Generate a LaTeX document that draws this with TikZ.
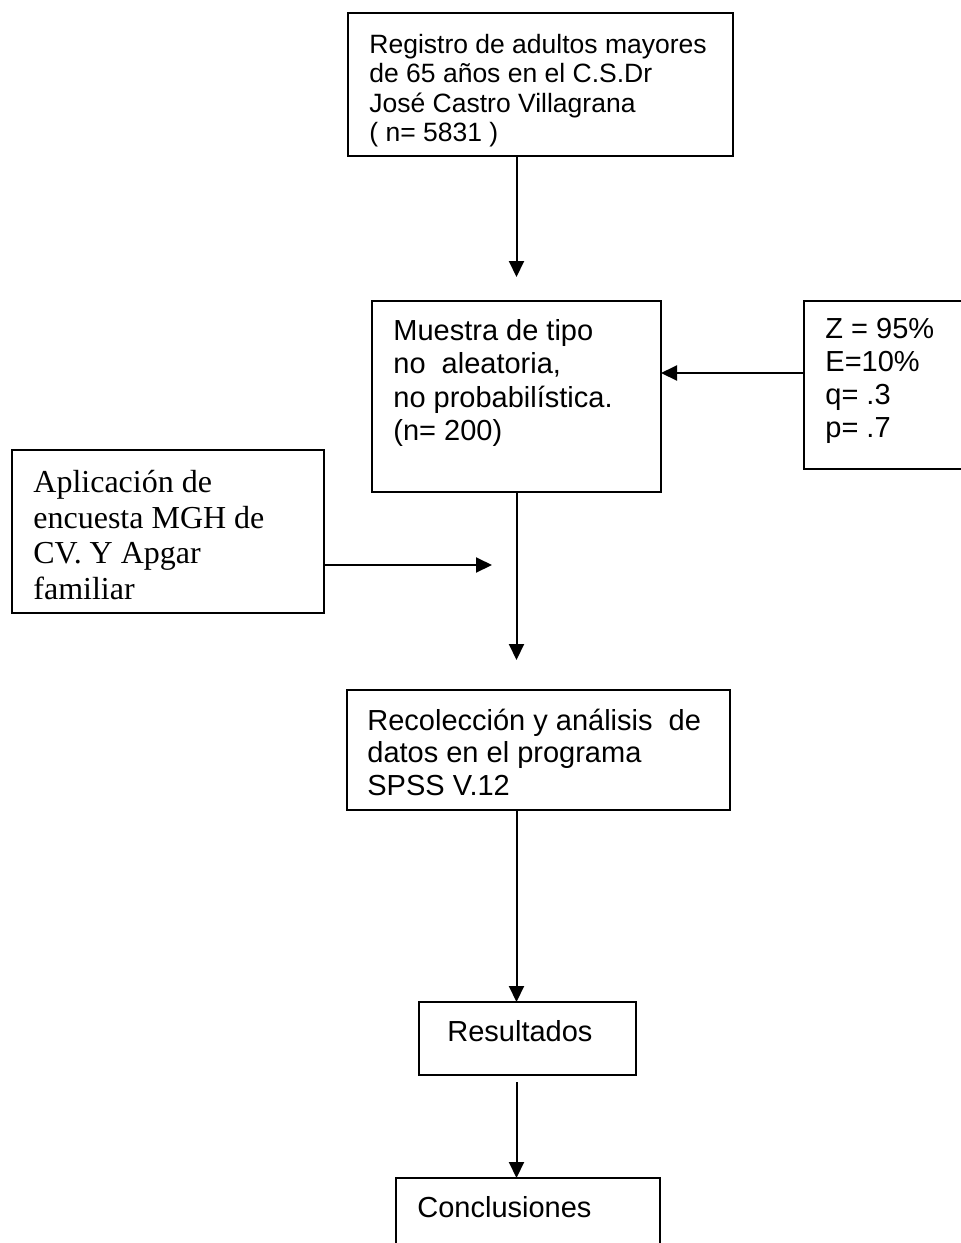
\documentclass[tikz,border=0pt]{standalone}
\usepackage{fontspec}
\setmainfont{Liberation Sans}
\newfontfamily\serifface{Liberation Serif}
\usetikzlibrary{arrows.meta}

\begin{document}
\begin{tikzpicture}[x=0.5pt,y=-0.5pt,
    box/.style={draw,line width=1.1pt,anchor=north west,inner sep=0pt,outer sep=0pt},
    txt/.style={anchor=base west,align=left,inner sep=0pt},
    arr/.style={line width=1pt,-{Triangle[length=8pt,width=7.5pt]}}]
    \useasboundingbox (0,0) rectangle (961,1243);
    \node[box,minimum width=192.5pt,minimum height=71.5pt] (reg) at (348,13) {};
    \node[box,minimum width=144.5pt,minimum height=95.5pt] (muestra) at (372,301) {};
    \node[box,minimum width=125pt,minimum height=84pt] (cond) at (804,301) {};
    \node[box,minimum width=156pt,minimum height=81.5pt] (apl) at (12,450) {};
    \node[box,minimum width=191.5pt,minimum height=60pt] (reco) at (347,690) {};
    \node[box,minimum width=108.5pt,minimum height=36.5pt] (res) at (419,1002) {};
    \node[box,minimum width=132pt,minimum height=65pt] (conc) at (396,1178) {};

    \node[txt,font=\fontsize{13.25}{14.75}\selectfont] (reg-t) at (369,141.5) {Registro de adultos mayores\\de 65 años en el C.S.Dr\\José Castro Villagrana\\( n= 5831 )};
    \node[txt,font=\fontsize{14.5}{16.75}\selectfont] (muestra-t) at (393,440.5) {Muestra de tipo\\no~~aleatoria,\\no probabilística.\\(n= 200)};
    \node[txt,font=\fontsize{14.5}{16.5}\selectfont] (cond-t) at (825,437) {Z = 95\%\\E=10\%\\q= .3\\p= .7};
    \node[txt,font=\serifface\fontsize{16}{17.75}\selectfont] (apl-t) at (33,599) {Aplicación de\\encuesta MGH de\\CV. Y Apgar\\familiar};
    \node[txt,font=\fontsize{14.5}{16.25}\selectfont] (reco-t) at (367,795) {Recolección y análisis~~de\\datos en el programa\\SPSS V.12};
    \node[txt,font=\fontsize{14.5}{16.5}\selectfont] (res-t) at (447,1041) {Resultados};
    \node[txt,font=\fontsize{14.5}{16.5}\selectfont] (conc-t) at (417,1217) {Conclusiones};

    \coordinate (aplEnd) at (492,565);
    \draw[arr] (reg.south -| muestra.north) -- ([yshift=12pt]muestra.north);
    \draw[arr] ([yshift=6pt]cond.west) -- ([yshift=6pt]cond.west -| muestra.east);
    \draw[arr] (apl.east |- aplEnd) -- (aplEnd);
    \draw[arr] (muestra.south) -- ([yshift=15pt]reco.north -| muestra.south);
    \draw[arr] (reco.south -| muestra.south) -- (res.north -| muestra.south);
    \draw[arr] ([yshift=-3.5pt]res.south -| muestra.south) -- (conc.north -| muestra.south);
\end{tikzpicture}
\end{document}
